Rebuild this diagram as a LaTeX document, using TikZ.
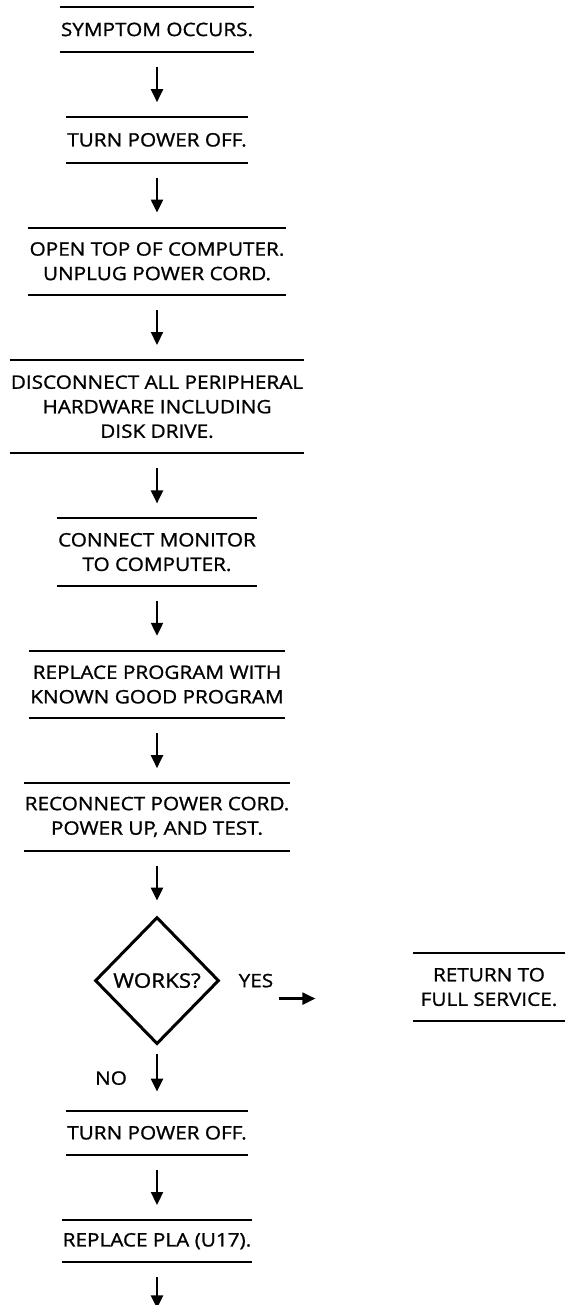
\documentclass[tikz,border=0pt]{standalone}
\usepackage{fontspec}
\setmainfont{Open Sans}[FakeStretch=1.12, FakeBold=1.1]
\usetikzlibrary{shapes.geometric,arrows.meta,positioning,calc}

\begin{document}
\begin{tikzpicture}[
  x=1pt, y=1pt,
  node distance=65pt,
  stepbox/.style={rectangle, inner xsep=1pt, inner ysep=0pt, minimum height=#1,
    align=center, font=\fontsize{18.5}{24.5}\selectfont},
  stepbox/.default=44pt,
  rule/.style={line width=2pt},
  lbl/.style={inner sep=0pt, font=\fontsize{18.5}{24.5}\selectfont},
  arr/.style={-{Triangle[length=13pt, width=12pt]}, line width=2.2pt,
    shorten <=15pt, shorten >=15pt}]
\useasboundingbox (0,0) rectangle (565,-1305);
\node[stepbox=45pt] (s1) at (157,-29.5) {SYMPTOM OCCURS.};
\node[stepbox=45pt, below=of s1] (s2) {TURN POWER OFF.};
\node[stepbox=67pt, below=of s2] (s3) {OPEN TOP OF COMPUTER.\\UNPLUG POWER CORD.};
\node[stepbox=93pt, below=of s3] (s4) {DISCONNECT ALL PERIPHERAL\\HARDWARE INCLUDING\\DISK DRIVE.};
\node[stepbox=67pt, below=of s4] (s5) {CONNECT MONITOR\\TO COMPUTER.};
\node[stepbox=67pt, below=of s5] (s6) {REPLACE PROGRAM WITH\\KNOWN GOOD PROGRAM};
\node[stepbox=67pt, below=of s6] (s7) {RECONNECT POWER CORD.\\POWER UP, AND TEST.};
\node[diamond, draw, line width=3pt, inner sep=0pt, minimum width=124pt,
  minimum height=127pt, font=\fontsize{20}{24.5}\selectfont, below=of s7] (works) {WORKS?};
\node[stepbox, below=of works] (s8) {TURN POWER OFF.};
\node[stepbox=42pt, below=of s8] (s9) {REPLACE PLA (U17).};
\node[stepbox=68pt, minimum width=152pt] (done) at (489,-987) {RETURN TO\\FULL SERVICE.};
\node[lbl, right=18pt of works] (yes) {YES};
\coordinate (ya) at ($(yes.south east)+(6,-11)$);
\coordinate[right=36pt of ya] (yb);
\coordinate[below=48pt of s9] (tail);
\foreach \n in {s1,s2,s3,s4,s5,s6,s7,s8,s9,done}
  \draw[rule] (\n.north west) -- (\n.north east) (\n.south west) -- (\n.south east);
\foreach \a/\b in {s1/s2,s2/s3,s3/s4,s4/s5,s5/s6,s6/s7,s7/works,s8/s9}
  \draw[arr] (\a.south) -- (\a.south |- \b.north);
\draw[arr, shorten <=8pt, shorten >=19pt] (works.south) -- (works.south |- s8.north)
  node[lbl, midway, left=29pt] (nolbl) {NO};
\draw[arr, shorten >=2pt] (s9.south) -- (tail);
\draw[arr, shorten <=0pt, shorten >=0pt] (ya) -- (yb);
\end{tikzpicture}
\end{document}
